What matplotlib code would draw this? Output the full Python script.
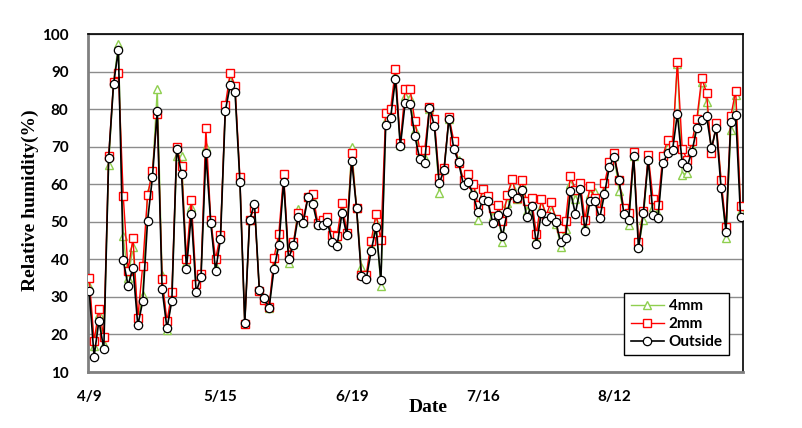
import matplotlib
matplotlib.use("Agg")
import matplotlib.pyplot as plt
import numpy as np

tick_labels = ["4/9", "5/15", "6/19", "7/16", "8/12"]
tick_index = [0, 27, 54, 81, 108]

outside = [31.6, 14.1, 23.7, 16.1, 67.0, 86.6, 95.8, 39.7, 33.0, 37.8,
           22.4, 28.8, 50.2, 61.8, 79.5, 32.0, 21.6, 29.0, 69.5, 62.6,
           37.4, 52.0, 31.3, 35.3, 68.3, 49.8, 36.9, 45.4, 79.6, 86.3,
           84.6, 60.7, 23.1, 50.6, 54.7, 31.9, 29.7, 27.0, 37.4, 43.7,
           60.7, 40.2, 43.7, 51.4, 49.6, 56.5, 54.7, 49.1, 49.1, 49.9,
           44.7, 43.6, 52.4, 46.4, 66.3, 53.6, 35.5, 34.8, 42.2, 48.5,
           34.4, 75.7, 77.6, 88.1, 70.1, 81.7, 81.25, 72.8, 66.7, 65.6,
           80.4, 75.6, 60.2, 63.8, 77.4, 69.5, 65.8, 59.7, 60.5, 57.1,
           52.5, 55.8, 55.4, 49.8, 51.9, 46.2, 52.6, 57.7, 56.2, 58.5,
           51.3, 54.1, 44.0, 52.3, 50.2, 51.2, 49.9, 44.5, 45.8, 58.1,
           52.2, 58.6, 47.6, 55.4, 55.4, 50.9, 57.3, 64.7, 67.2, 61.0,
           52.2, 50.6, 67.4, 42.9, 52.3, 66.5, 51.8, 50.9, 65.6, 68.2,
           69.1, 78.7, 65.6, 64.7, 68.7, 74.9, 77.1, 78.2, 69.7, 74.9,
           58.9, 47.4, 76.7, 78.4, 51.4]

mm2 = [35.0, 18.3, 26.7, 19.4, 67.4, 87.3, 89.7, 56.9, 36.9, 45.7,
       24.4, 38.2, 57.0, 63.5, 78.8, 34.7, 23.5, 31.3, 69.8, 64.8,
       40.1, 55.9, 33.5, 36.2, 74.9, 50.6, 40.1, 46.6, 81.1, 89.6,
       86.2, 61.9, 22.8, 50.6, 53.8, 31.7, 29.2, 27.2, 40.4, 46.8,
       62.6, 41.25, 44.5, 52.4, 50.6, 56.7, 57.4, 49.8, 50.6, 51.2,
       46.4, 46.1, 55.1, 47.1, 68.2, 53.6, 35.7, 35.9, 44.9, 52.1,
       45.1, 79.0, 80.0, 90.8, 71.0, 85.3, 85.4, 76.8, 69.2, 69.1,
       80.5, 77.4, 61.6, 64.2, 78.0, 71.6, 65.7, 61.2, 62.8, 60.0,
       54.4, 58.6, 56.9, 53.7, 54.5, 50.1, 57.0, 61.3, 56.3, 61.0,
       55.4, 56.2, 46.7, 56.0, 51.6, 55.3, 50.7, 48.3, 50.3, 62.3,
       58.5, 60.4, 50.6, 59.4, 56.2, 53.0, 60.2, 66.0, 68.3, 61.0,
       53.6, 52.4, 68.5, 44.7, 52.8, 67.8, 56.0, 54.4, 67.5, 71.9,
       70.4, 92.6, 69.4, 66.5, 71.4, 77.4, 88.2, 84.4, 68.3, 76.2,
       61.1, 48.7, 78.2, 84.9, 54.3]

mm4 = [33.0, 17.0, 25.4, 17.4, 65.2, 87.0, 97.3, 46.2, 35.0, 43.3,
       23.5, 30.4, 57.6, 62.5, 85.3, 35.7, 21.2, 30.0, 67.6, 67.4,
       39.0, 54.0, 32.5, 35.8, 70.0, 50.0, 38.0, 46.0, 80.0, 87.5,
       85.0, 61.0, 23.0, 50.5, 54.5, 31.8, 29.5, 27.0, 38.5, 44.5,
       61.5, 39.1, 44.0, 53.5, 50.0, 56.5, 56.0, 49.5, 50.0, 50.5,
       45.5, 45.0, 53.5, 47.0, 69.8, 53.6, 38.0, 35.5, 43.5, 50.0,
       32.8, 77.0, 78.5, 89.0, 70.5, 83.5, 83.0, 74.5, 68.0, 67.0,
       80.0, 76.5, 57.6, 64.0, 77.5, 70.5, 66.5, 60.5, 61.5, 58.5,
       50.4, 57.0, 56.0, 51.5, 53.0, 44.5, 55.0, 59.5, 56.0, 60.0,
       53.0, 55.0, 45.5, 54.0, 51.0, 53.0, 49.5, 43.4, 48.0, 60.0,
       56.0, 59.5, 49.0, 57.5, 58.0, 52.0, 58.5, 65.0, 67.5, 58.3,
       52.5, 49.1, 67.5, 43.5, 50.5, 67.0, 54.0, 52.0, 66.5, 70.0,
       70.0, 92.0, 62.5, 63.0, 70.0, 75.5, 87.3, 82.0, 69.0, 75.5,
       61.0, 45.6, 74.5, 83.8, 53.0]

x = np.arange(len(outside))

fig = plt.figure(figsize=(8.03, 4.28), dpi=100)
ax = fig.add_axes([88 / 803, (428 - 372) / 428, (743 - 88) / 803, 338 / 428])

ax.plot(x, mm4, color="#8fcf4f", lw=1.0, marker="^", ms=6, mfc="white",
        mec="#8fcf4f", mew=1.0, label="4mm", zorder=3)
ax.plot(x, mm2, color="#ff0000", lw=1.0, marker="s", ms=5.5, mfc="white",
        mec="#ff0000", mew=1.0, label="2mm", zorder=4)
ax.plot(x, outside, color="black", lw=1.2, marker="o", ms=6, mfc="white",
        mec="black", mew=0.9, label="Outside", zorder=5)

ax.set_xlim(-0.25, len(outside) - 0.5)
ax.set_ylim(10, 100)
ax.set_yticks(np.arange(10, 101, 10))
ax.set_xticks(tick_index)
ax.set_xticklabels(tick_labels)
ax.yaxis.grid(True, color="#8c8c8c", lw=1.0)
ax.set_axisbelow(True)

tick_font = dict(family=["Lato", "DejaVu Sans"], weight="bold", size=11)
for lab in ax.get_xticklabels() + ax.get_yticklabels():
    lab.set_fontfamily(tick_font["family"])
    lab.set_fontweight("bold")
    lab.set_fontsize(11)
ax.tick_params(axis="x", length=0, pad=13)
ax.tick_params(axis="y", length=0, pad=14)

ax.spines["top"].set_color("black")
ax.spines["right"].set_color("black")
ax.spines["top"].set_linewidth(1.2)
ax.spines["right"].set_linewidth(1.2)
ax.spines["left"].set_color("#808080")
ax.spines["bottom"].set_color("#808080")
ax.spines["left"].set_linewidth(2)
ax.spines["bottom"].set_linewidth(2)

fig.text(428 / 803, 1 - 408 / 428, "Date", ha="center", va="center",
         family=["Liberation Serif", "DejaVu Serif"], weight="bold", fontsize=14)
fig.text(30 / 803, 1 - 200 / 428, "Relative humidity(%)", ha="center", va="center",
         rotation=90, family=["Liberation Serif", "DejaVu Serif"], weight="bold", fontsize=14)

leg = ax.legend(loc="lower right", bbox_to_anchor=(0.99, 0.027), frameon=True,
                fancybox=False, prop={"family": ["Lato", "DejaVu Sans"], "weight": "bold", "size": 11},
                handlelength=2.2, handletextpad=0.3, labelspacing=0.25, borderpad=0.4)
leg.get_frame().set_edgecolor("black")
leg.get_frame().set_linewidth(1.0)
leg.get_frame().set_alpha(1)

fig.savefig("out.png", dpi=100)
